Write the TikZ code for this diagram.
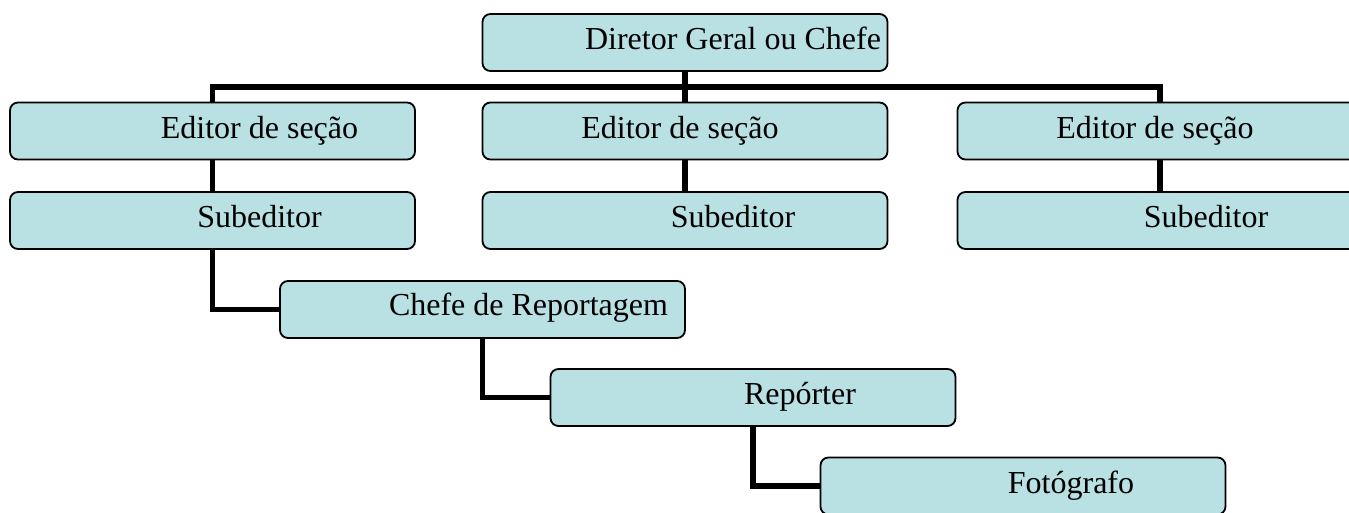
\documentclass[tikz,border=0pt]{standalone}
\usepackage{fontspec}
\setmainfont{Liberation Serif}
\usetikzlibrary{backgrounds}
\definecolor{boxfill}{RGB}{185,224,227}
\tikzset{
  orgbox/.style={draw=black, line width=1.8pt, fill=boxfill, rounded corners=8pt,
    minimum width=405pt, minimum height=57pt, inner sep=0pt, outer sep=0pt},
  lbl/.style={anchor=base, inner sep=0pt, font=\fontsize{32}{36}\selectfont},
  conn/.style={draw=black, line width=5.5pt, line join=miter}
}
\begin{document}
\begin{tikzpicture}[x=1pt,y=-1pt]
\useasboundingbox (0,0) rectangle (1349,513);
% boxes
\node[orgbox] (dir)  at (685,42.5) {};
\node[orgbox] (edL)  at (212.5,131) {};
\node[orgbox] (edM)  at (685,131) {};
\node[orgbox] (edR)  at (1160,131) {};
\node[orgbox] (subL) at (212.5,220.5) {};
\node[orgbox] (subM) at (685,220.5) {};
\node[orgbox] (subR) at (1160,220.5) {};
\node[orgbox] (chefe) at (482.5,309.5) {};
\node[orgbox] (rep)  at (753,397.5) {};
\node[orgbox] (fot)  at (1023,486) {};
% connectors (behind the boxes)
\coordinate (bus) at (685,87);
\begin{pgfonlayer}{background}
\draw[conn] (dir.south) -- (edM.north);
\draw[conn] (edL.north) |- (bus) -| (edR.north);
\draw[conn] (edL.south) -- (subL.north);
\draw[conn] (edM.south) -- (subM.north);
\draw[conn] (edR.south) -- (subR.north);
\draw[conn] (subL.south) |- (chefe.west);
\draw[conn] (chefe.south) |- (rep.west);
\draw[conn] (rep.south) |- (fot.west);
\end{pgfonlayer}
% labels
\node[lbl] (tdir)  at ([xshift=48pt,yshift=-7.5pt]dir.center) {Diretor Geral ou Chefe};
\node[lbl] (tedL)  at ([xshift=47pt,yshift=-7.5pt]edL.center) {Editor de seção};
\node[lbl] (tedM)  at ([xshift=-5pt,yshift=-7.5pt]edM.center) {Editor de seção};
\node[lbl] (tedR)  at ([xshift=-5pt,yshift=-7.5pt]edR.center) {Editor de seção};
\node[lbl] (tsubL) at ([xshift=47pt,yshift=-6.5pt]subL.center) {Subeditor};
\node[lbl] (tsubM) at ([xshift=48pt,yshift=-6.5pt]subM.center) {Subeditor};
\node[lbl] (tsubR) at ([xshift=46pt,yshift=-6.5pt]subR.center) {Subeditor};
\node[lbl] (tchefe) at ([xshift=46pt,yshift=-6pt]chefe.center) {Chefe de Reportagem};
\node[lbl] (trep)  at ([xshift=47pt,yshift=-6.5pt]rep.center) {Repórter};
\node[lbl] (tfot)  at ([xshift=48pt,yshift=-7pt]fot.center) {Fotógrafo};
\end{tikzpicture}
\end{document}
